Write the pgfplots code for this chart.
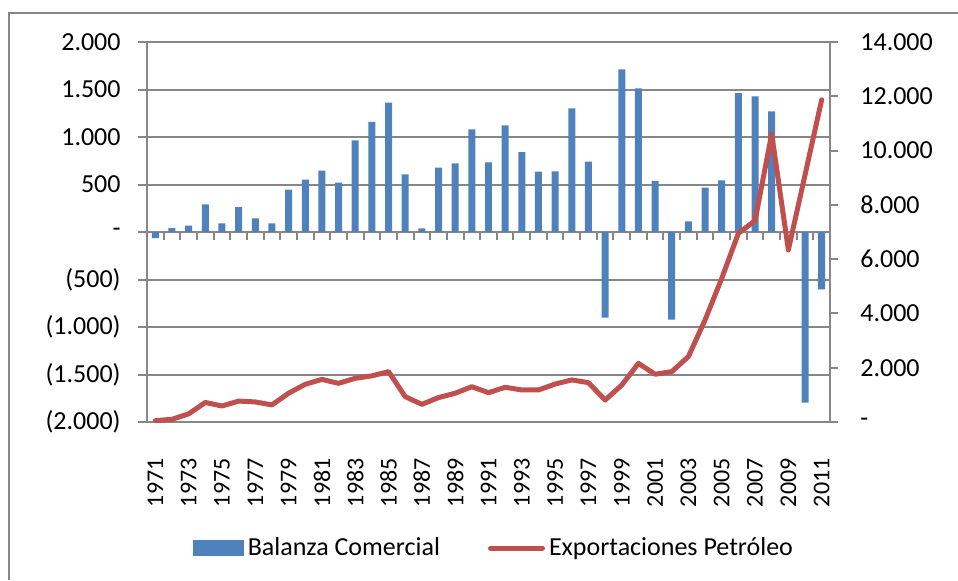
\documentclass[border=0pt]{standalone}
\usepackage{fontspec}
\setmainfont{Carlito}
\usepackage{pgfplots}
\pgfplotsset{compat=1.18}
\definecolor{barblue}{HTML}{4F81BD}
\definecolor{linered}{HTML}{C0504D}
\definecolor{gridgray}{HTML}{878787}
\begin{document}
\begin{tikzpicture}
\path[use as bounding box] (-73.5pt,-79pt) rectangle (405.5pt,211pt);
\draw[gridgray, line width=1pt] (-69pt,-79pt) -- (-69pt,204.5pt) -- (405.5pt,204.5pt);
\begin{axis}[
  at={(0pt,0pt)}, anchor=south west,
  scale only axis, width=341.5pt, height=190pt,
  xmin=-0.5, xmax=40.5, ymin=-2000, ymax=2000,
  axis lines*=left,
  axis line style={gridgray, line width=1pt},
  ytick={-2000,-1500,...,2000},
  scaled y ticks=false,
  yticklabels={(2.000),(1.500),(1.000),(500),{-\hspace{9pt}},{500\hspace{2.8pt}},{1.000\hspace{2.8pt}},{1.500\hspace{2.8pt}},{2.000\hspace{2.8pt}}},
  ymajorgrids, grid style={gridgray, line width=1pt},
  ytick style={gridgray, line width=1pt},
  major tick length=4.5pt, tick align=outside,
  xtick={0,2,...,40},
  xticklabels={1971,1973,1975,1977,1979,1981,1983,1985,1987,1989,1991,1993,1995,1997,1999,2001,2003,2005,2007,2009,2011},
  xtick style={draw=none},
  xticklabel style={rotate=90, anchor=east, inner sep=0pt, font=\fontsize{12}{14}\selectfont},
  xticklabel shift=13.5pt,
  yticklabel style={anchor=east, inner sep=0pt, font=\fontsize{13}{15}\selectfont},
  yticklabel shift=8.5pt,
  clip=false,
]
\addplot[ybar, bar width=0.42, fill=barblue, draw=none] coordinates {
(0,-65) (1,42) (2,67) (3,291) (4,91) (5,263) (6,144) (7,91) (8,446) (9,551)
(10,646) (11,519) (12,965) (13,1158) (14,1361) (15,607) (16,39) (17,677) (18,723) (19,1081)
(20,733) (21,1123) (22,842) (23,635) (24,639) (25,1302) (26,740) (27,-902) (28,1712) (29,1512)
(30,537) (31,-923) (32,112) (33,467) (34,544) (35,1463) (36,1428) (37,1270) (38,0) (39,-1796)
(40,-604)};
\pgfplotsinvokeforeach{-0.5,0.5,...,40.5}{
  \draw[gridgray, line width=1pt] (axis cs:#1,0) -- ([yshift=-3.8pt]axis cs:#1,0);
}
\end{axis}
\begin{axis}[
  at={(0pt,0pt)}, anchor=south west,
  scale only axis, width=341.5pt, height=190pt,
  xmin=-0.5, xmax=40.5, ymin=0, ymax=14000,
  axis y line*=right, axis x line=none,
  axis line style={gridgray, line width=1pt},
  ytick={0,2000,...,14000},
  scaled y ticks=false,
  yticklabels={-,2.000,4.000,6.000,8.000,10.000,12.000,14.000},
  ytick style={gridgray, line width=1pt},
  major tick length=4pt, tick align=outside,
  yticklabel style={anchor=west, inner sep=0pt, font=\fontsize{13}{15}\selectfont},
  yticklabel shift=11pt,
  legend style={at={(0.5095,-0.3316)}, anchor=center, draw=none, fill=none,
    legend columns=2, font=\fontsize{13}{15}\selectfont,
    /tikz/every even column/.append style={column sep=22pt}},
  legend cell align=left,
  clip=false,
]
\addlegendimage{legend image code/.code={\fill[barblue] (0pt,-3.75pt) rectangle (25pt,3.75pt);}}
\addlegendentry{Balanza Comercial}
\addplot[linered, line width=2.5pt, line join=round, line cap=round,
  legend image code/.code={\draw[linered, line width=2.5pt] (0pt,0pt) -- (26pt,0pt);}] coordinates {
(0,50) (1,100) (2,300) (3,720) (4,590) (5,770) (6,740) (7,630) (8,1060) (9,1390)
(10,1570) (11,1425) (12,1610) (13,1700) (14,1855) (15,935) (16,650) (17,900) (18,1060) (19,1300)
(20,1080) (21,1280) (22,1180) (23,1180) (24,1400) (25,1550) (26,1450) (27,810) (28,1360) (29,2160)
(30,1760) (31,1855) (32,2410) (33,3760) (34,5290) (35,6950) (36,7420) (37,10610) (38,6340) (39,9100)
(40,11870)};
\addlegendentry{Exportaciones Petróleo}
\end{axis}
\end{tikzpicture}
\end{document}
